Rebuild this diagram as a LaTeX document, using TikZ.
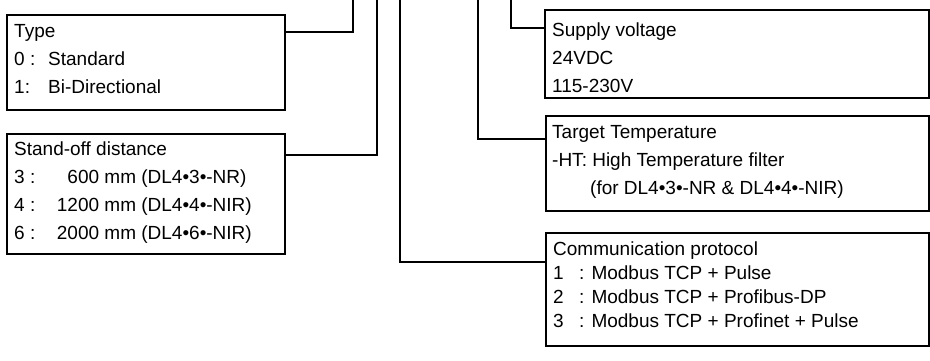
\documentclass[tikz,border=0pt]{standalone}
\usepackage{fontspec}
\setmainfont{Liberation Sans}
\tikzset{
  every node/.style={font=\fontsize{19}{28}\selectfont},
  codebox/.style={draw, line width=1.5pt, anchor=north west, inner sep=0pt},
  codetxt/.style={anchor=base west, inner sep=0pt, align=left},
  lead/.style={draw, line width=1.5pt},
}
\newcommand{\tabto}[2]{\makebox[#1][l]{#2}}
\newcommand{\numcol}[1]{\makebox[44pt][r]{#1}}

\begin{document}
\begin{tikzpicture}[x=1pt, y=-1pt]
\useasboundingbox (0,0) rectangle (930,360);

% ───────────── option boxes ─────────────
\node[codebox, minimum width=278pt, minimum height=95pt] (type) at (6,14) {};
\node[codebox, minimum width=278pt, minimum height=120pt] (dist) at (6,133) {};
\node[codebox, minimum width=384pt, minimum height=88pt] (supply) at (544,9) {};
\node[codebox, minimum width=383pt, minimum height=95pt] (temp) at (545,115) {};
\node[codebox, minimum width=383pt, minimum height=113pt] (comm) at (545,232) {};

% texts sit on the baseline of their last line
\node[codetxt] (typetxt) at (14,93) {Type\\
  \tabto{34pt}{0 :}Standard\\
  \tabto{34pt}{1:}Bi-Directional};
\node[codetxt] (disttxt) at (14,239) {Stand-off distance\\
  \tabto{41pt}{3 :}\numcol{600} mm (DL4•3•-NR)\\
  \tabto{41pt}{4 :}\numcol{1200} mm (DL4•4•-NIR)\\
  \tabto{41pt}{6 :}\numcol{2000} mm (DL4•6•-NIR)};
\node[codetxt] (supplytxt) at (552,92) {Supply voltage\\24VDC\\115-230V};
\node[codetxt] (temptxt) at (552,194) {Target Temperature\\
  -HT: High Temperature filter\\
  \hspace*{38pt}(for DL4•3•-NR \& DL4•4•-NIR)};
\node[codetxt, font=\fontsize{19}{24}\selectfont] (commtxt) at (553,327) {Communication protocol\\
  \tabto{26pt}{1}: Modbus TCP + Pulse\\
  \tabto{26pt}{2}: Modbus TCP + Profibus-DP\\
  \tabto{26pt}{3}: Modbus TCP + Profinet + Pulse};

% ───────────── leads up to the code ─────────────
\coordinate (typeup) at (353,0);
\coordinate (distup) at (377,0);
\coordinate (commup) at (400,0);
\coordinate (tempup) at (478,0);
\coordinate (supplyup) at (511,0);

\draw[lead] (type.north east) ++(0,18) -| (typeup);
\draw[lead] (dist.north east) ++(0,22) -| (distup);
\draw[lead] (comm.north west) ++(0,30) -| (commup);
\draw[lead] (temp.north west) ++(0,24) -| (tempup);
\draw[lead] (supply.north west) ++(0,19) -| (supplyup);

\end{tikzpicture}
\end{document}
